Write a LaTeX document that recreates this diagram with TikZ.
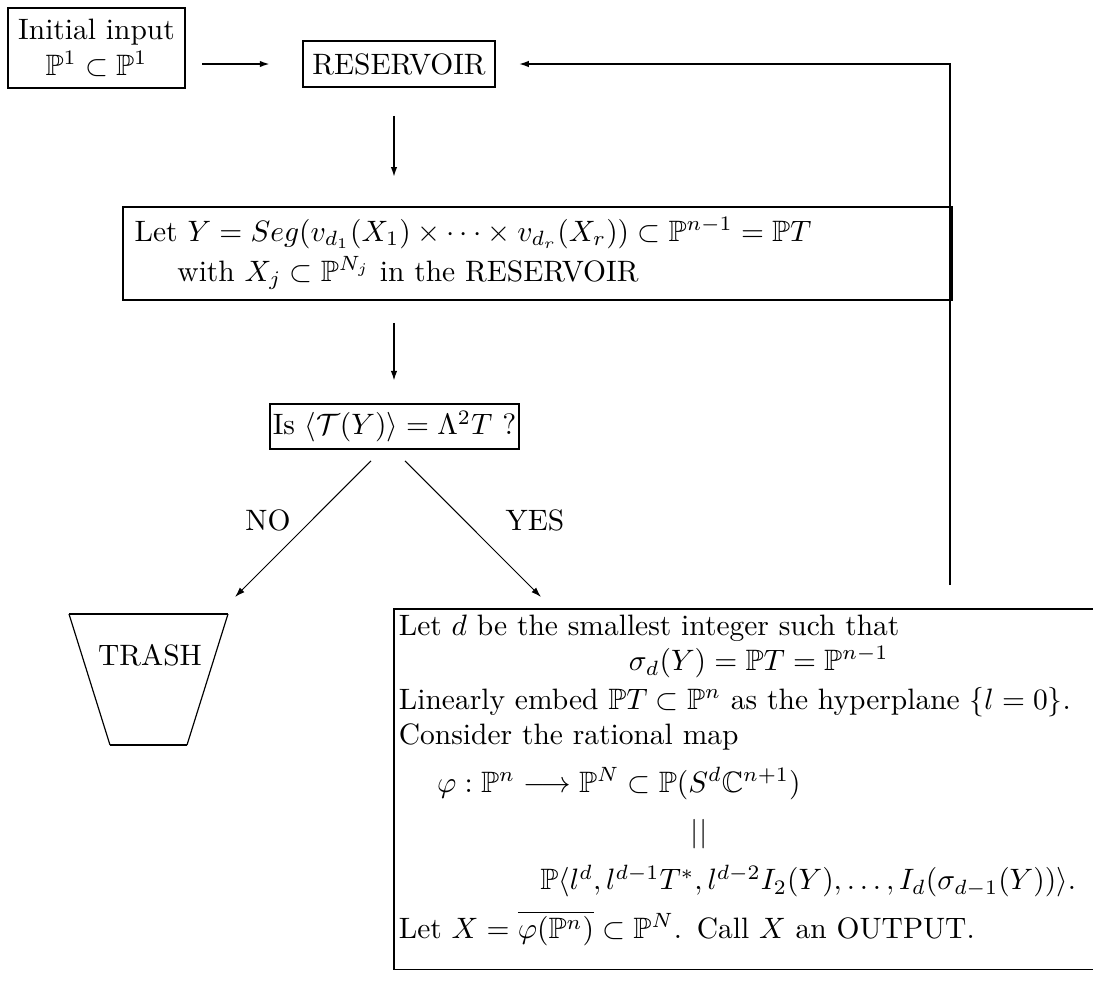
\documentclass[tikz,border=0pt]{standalone}
\usepackage{amsmath,amssymb}
\usetikzlibrary{arrows.meta,calc}
\begin{document}
\begin{tikzpicture}[x=0.339pt,y=-0.339pt,
  box/.style={draw,line width=0.6pt,inner sep=0pt,align=center},
  arr/.style={-{Latex[length=3.4pt,width=2.2pt]},line width=0.6pt},
  thinarr/.style={-{Latex[length=3.4pt,width=2.2pt]},line width=0.35pt},
  lab/.style={inner sep=0pt}]
\useasboundingbox (0,0) rectangle (1093,982);
% boxes
\node[box,minimum width=60pt,minimum height=27pt] (init) at (96.5,48)
  {Initial input\\$\mathbb{P}^1\subset\mathbb{P}^1$};
\node[box,minimum width=65pt,minimum height=15.6pt] (res) at (399,64) {RESERVOIR};
\node[box,anchor=north west,align=left,inner xsep=4pt,inner ysep=3.5pt,
  text width=273pt] (ybox) at (122,206)
  {Let $Y=Seg(v_{d_1}(X_1)\times\cdots\times v_{d_r}(X_r))\subset\mathbb{P}^{n-1}=\mathbb{P}T$\\[1.5pt]
   \hspace*{1.45em}with $X_j\subset\mathbb{P}^{N_j}$ in the RESERVOIR};
\node[box,minimum width=84.4pt,minimum height=15.3pt] (isq) at (394.5,426.5)
  {Is $\langle\mathcal{T}(Y)\rangle=\Lambda^2T$ ?};
\node[box,anchor=north west,align=left,inner xsep=1.7pt,inner ysep=2pt,
  text width=248pt] (big) at (393,608)
  {Let $d$ be the smallest integer such that\\
   \hspace*{78pt}$\sigma_d(Y)=\mathbb{P}T=\mathbb{P}^{n-1}$\\[1pt]
   Linearly embed $\mathbb{P}T\subset\mathbb{P}^n$ as the hyperplane $\{l=0\}$.\\
   Consider the rational map\\[4.3pt]
   \hspace*{13pt}$\varphi:\mathbb{P}^n\longrightarrow\mathbb{P}^N\subset\mathbb{P}(S^d\mathbb{C}^{n+1})$\\[4.5pt]
   \hspace*{99pt}$||$\\[4.5pt]
   \hspace*{48pt}$\mathbb{P}\langle l^d,l^{d-1}T^*,l^{d-2}I_2(Y),\dots,I_d(\sigma_{d-1}(Y))\rangle$.\\[4.5pt]
   Let $X=\overline{\varphi(\mathbb{P}^n)}\subset\mathbb{P}^N$. Call $X$ an OUTPUT.\\[-3.5pt]\mbox{}};
% trash
\coordinate (ttl) at (69,614);
\coordinate (ttr) at (228,614);
\coordinate (tbl) at (110,745);
\coordinate (tbr) at (187,745);
\draw[line width=0.9pt] (ttl) -- (ttr);
\draw[line width=0.9pt] (tbl) -- (tbr);
\draw[line width=0.4pt] (ttl) -- (tbl) (ttr) -- (tbr);
\node[lab] (trash) at (150,655) {TRASH};
% connectors
\draw[arr,shorten <=5.5pt,shorten >=11pt] (init.east |- res.west) -- (res.west);
\coordinate (fb) at (950,585);
\draw[arr,shorten >=7.8pt] (fb) |- (res.east);
\coordinate (ax) at (394,0);
\draw[arr,shorten <=9.5pt,shorten >=9.8pt] (res.south -| ax) -- (ybox.north -| ax);
\draw[arr,shorten <=7.5pt,shorten >=7.5pt] (ybox.south -| ax) -- (isq.north -| ax);
\coordinate (notip) at (235,597);
\coordinate (yestip) at (541,597);
\draw[thinarr] ($(isq.south)+(-23.5,11)$) -- (notip);
\draw[thinarr] ($(isq.south)+(10.5,11)$) -- (yestip);
\node[lab] (no) at (268,520) {NO};
\node[lab] (yes) at (535,520) {YES};
\end{tikzpicture}
\end{document}
